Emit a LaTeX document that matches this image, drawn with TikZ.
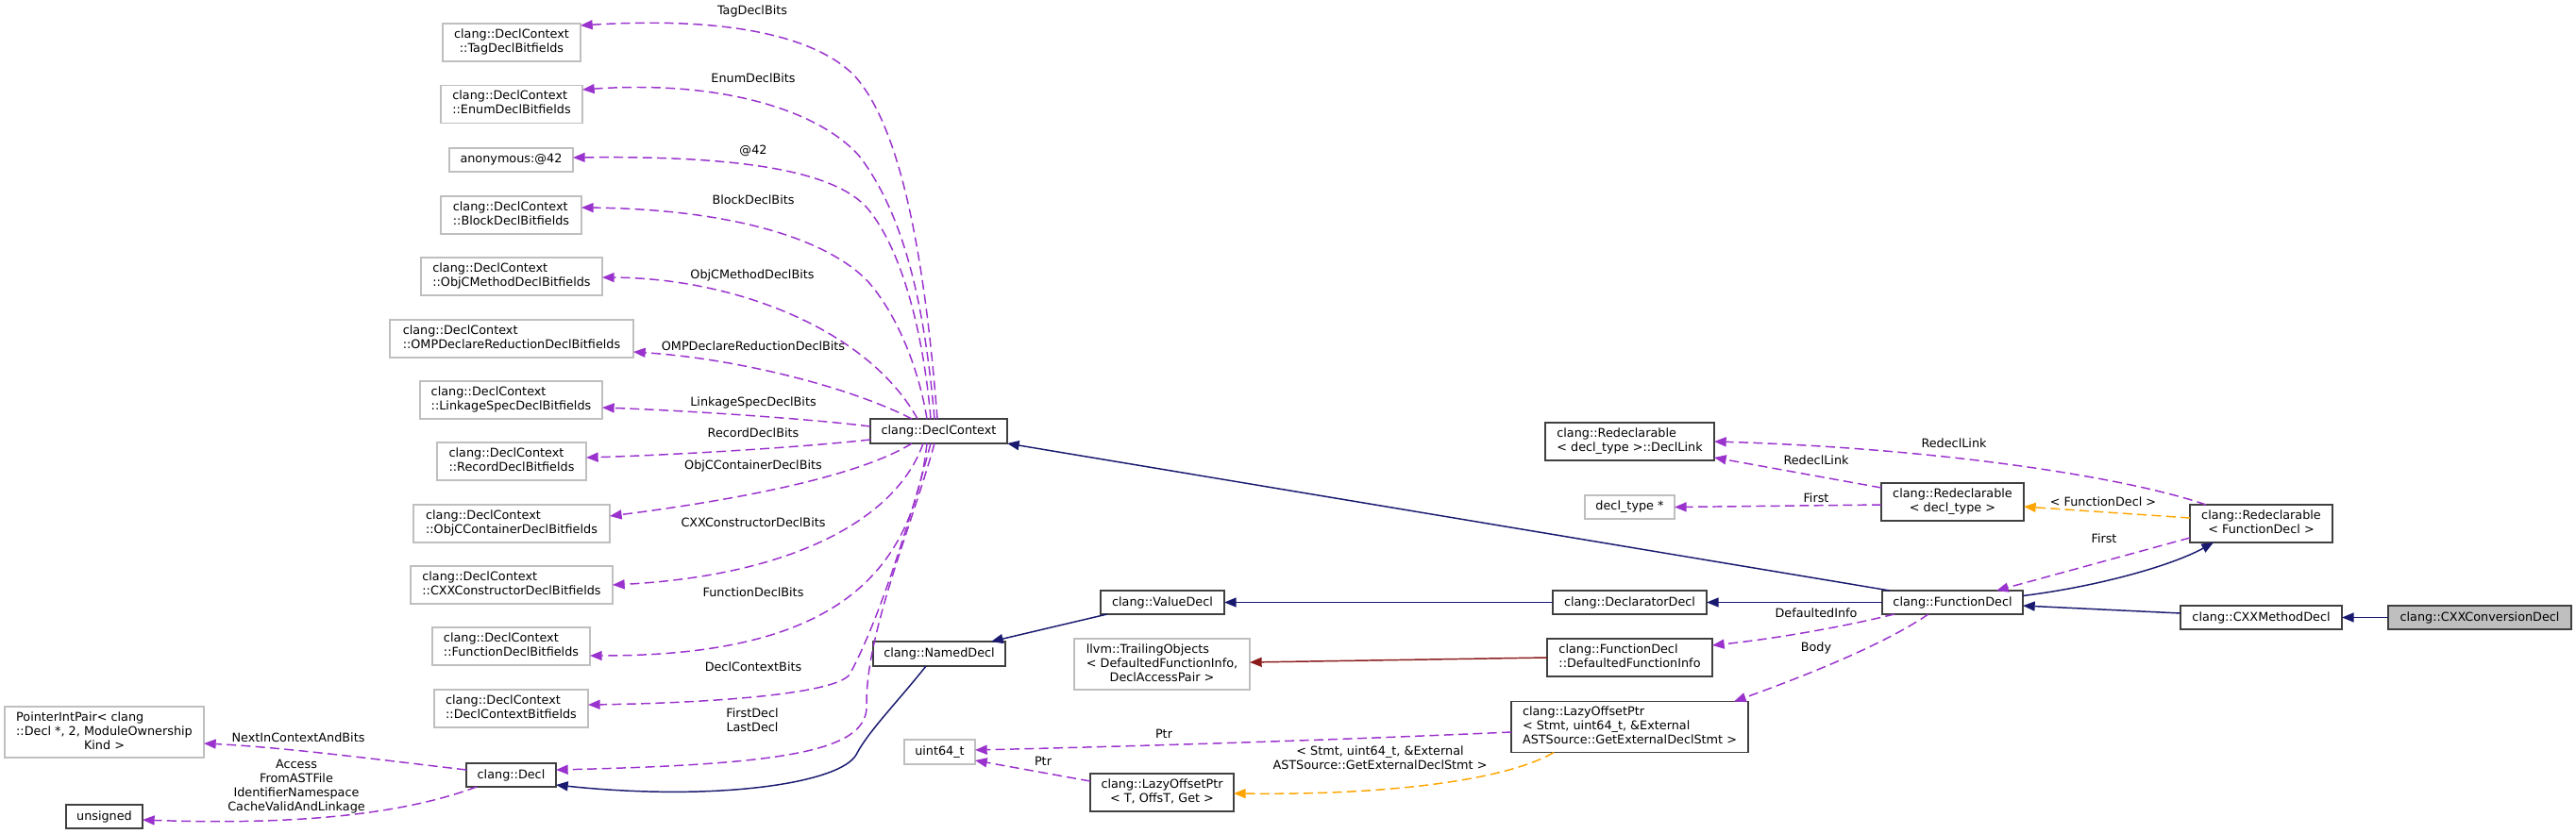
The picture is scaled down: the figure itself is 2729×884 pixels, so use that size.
\documentclass[tikz,border=0pt]{standalone}
\usepackage{fontspec}
\setmainfont{DejaVu Sans}
\usetikzlibrary{arrows.meta,calc}
\definecolor{usecol}{HTML}{9A32CD}
\definecolor{inhcol}{HTML}{191970}
\definecolor{tplcol}{HTML}{FFA500}
\definecolor{privcol}{HTML}{8B1A1A}
\definecolor{greybd}{HTML}{BFBFBF}
\definecolor{darkbd}{HTML}{404040}
\newcommand\NLii[2]{\begin{tabular}{@{}l@{}}#1\\\multicolumn{1}{@{}c@{}}{#2}\end{tabular}}
\newcommand\NLiii[3]{\begin{tabular}{@{}l@{}}#1\\#2\\\multicolumn{1}{@{}c@{}}{#3}\end{tabular}}
\begin{document}
\begin{tikzpicture}[x=0.75pt,y=-0.75pt,
  font=\fontsize{9.6pt}{11.25pt}\selectfont,
  gbox/.style={draw=greybd, line width=1.3pt, fill=white, inner sep=0pt, outer sep=0pt, anchor=center},
  kbox/.style={draw=darkbd, line width=1.3pt, fill=white, inner sep=0pt, outer sep=0pt, anchor=center},
  mainbox/.style={kbox, fill=greybd},
  h1/.style={minimum height=18.75pt},
  h2/.style={minimum height=30pt},
  h3/.style={minimum height=40.5pt},
  tipk/.style={-{Triangle[length=9.5pt,width=7.5pt]}},
  usage/.style={tipk, draw=usecol, line width=1.1pt, dash pattern=on 7.5pt off 4pt},
  tmpl/.style={tipk, draw=tplcol, line width=1.1pt, dash pattern=on 7.5pt off 4pt},
  inh/.style={tipk, draw=inhcol, line width=1.1pt},
  priv/.style={tipk, draw=privcol, line width=1.1pt},
  elabel/.style={inner sep=0pt, align=center}]
\useasboundingbox (0,0) rectangle (2729,884);

% ---------- nodes ----------
\node[gbox, h2, minimum width=109.5pt] (tag) at (542,45) {\NLii{clang::DeclContext}{::TagDeclBitfields}};
\node[gbox, h2, minimum width=112.5pt] (enum) at (542,110.5) {\NLii{clang::DeclContext}{::EnumDeclBitfields}};
\node[gbox, h1, minimum width=98.25pt] (anon) at (541.5,169.5) {anonymous:@42};
\node[gbox, h2, minimum width=111.75pt] (block) at (541.5,228) {\NLii{clang::DeclContext}{::BlockDeclBitfields}};
\node[gbox, h2, minimum width=144pt] (objcm) at (542,293) {\NLii{clang::DeclContext}{::ObjCMethodDeclBitfields}};
\node[gbox, h2, minimum width=193.5pt] (omp) at (542,359) {\NLii{clang::DeclContext}{::OMPDeclareReductionDeclBitfields}};
\node[gbox, h2, minimum width=144.75pt] (link) at (541.5,424) {\NLii{clang::DeclContext}{::LinkageSpecDeclBitfields}};
\node[gbox, h2, minimum width=118.5pt] (rec) at (542,489) {\NLii{clang::DeclContext}{::RecordDeclBitfields}};
\node[gbox, h2, minimum width=156pt] (objcc) at (542,555) {\NLii{clang::DeclContext}{::ObjCContainerDeclBitfields}};
\node[gbox, h2, minimum width=160.5pt] (cxxc) at (542,620) {\NLii{clang::DeclContext}{::CXXConstructorDeclBitfields}};
\node[gbox, h2, minimum width=125.25pt] (fdb) at (541.5,685) {\NLii{clang::DeclContext}{::FunctionDeclBitfields}};
\node[gbox, h2, minimum width=122.25pt] (dcb) at (541.5,751) {\NLii{clang::DeclContext}{::DeclContextBitfields}};
\node[gbox, h3, minimum width=158.25pt] (pip) at (110.5,776) {\NLiii{PointerIntPair< clang}{::Decl *, 2, ModuleOwnership}{Kind >}};
\node[kbox, h1, minimum width=71.25pt] (decl) at (541.5,821.5) {clang::Decl};
\node[kbox, h1, minimum width=60.75pt] (uns) at (110.5,865.5) {unsigned};
\node[kbox, minimum height=19.5pt, minimum width=108.75pt] (dc) at (994.5,457) {clang::DeclContext};
\node[kbox, minimum height=19.5pt, minimum width=105pt] (nd) at (995,693) {clang::NamedDecl};
\node[kbox, h1, minimum width=98.25pt] (vd) at (1231.5,638.5) {clang::ValueDecl};
\node[gbox, h3, minimum width=139.5pt] (trail) at (1231,704) {\NLiii{llvm::TrailingObjects}{< DefaultedFunctionInfo,}{DeclAccessPair >}};
\node[gbox, minimum height=19.5pt, minimum width=56.25pt] (u64) at (995.5,797) {uint64\_t};
\node[kbox, h2, minimum width=114pt] (lazyT) at (1231,840) {\NLii{clang::LazyOffsetPtr}{< T, OffsT, Get >}};
\node[kbox, h3, minimum width=188.25pt] (lazyS) at (1726.5,770.5) {\NLiii{clang::LazyOffsetPtr}{< Stmt, uint64\_t, \&External}{ASTSource::GetExternalDeclStmt >}};
\node[kbox, h2, minimum width=134.25pt] (dlink) at (1726.5,468) {\NLii{clang::Redeclarable}{< decl\_type >::DeclLink}};
\node[gbox, h1, minimum width=71.25pt] (dtp) at (1726.5,537.5) {decl\_type *};
\node[kbox, h2, minimum width=113.25pt] (rdt) at (2068.5,532) {\NLii{clang::Redeclarable}{< decl\_type >}};
\node[kbox, h1, minimum width=122.25pt] (ddecl) at (1726.5,638.5) {clang::DeclaratorDecl};
\node[kbox, h1, minimum width=111.75pt] (fd) at (2068.5,638.5) {clang::FunctionDecl};
\node[kbox, h2, minimum width=131.25pt] (dfi) at (1726.5,697) {\NLii{clang::FunctionDecl}{::DefaultedFunctionInfo}};
\node[kbox, h2, minimum width=113.25pt] (rfd) at (2395.5,555) {\NLii{clang::Redeclarable}{< FunctionDecl >}};
\node[kbox, h1, minimum width=128.25pt] (cxxm) at (2395.5,654.5) {clang::CXXMethodDecl};
\node[mainbox, h1, minimum width=145.5pt] (cxxconv) at (2627,654.5) {clang::CXXConversionDecl};

% ---------- DeclContext fan (usage) ----------
\draw[usage] ($(dc.north)+(-1.5,0)$) .. controls (978,250) and (950,130) .. (905,80)
  .. controls (860,35) and (760,18) .. ($(tag.north east)+(0,2)$);
\draw[usage] ($(dc.north)+(-4.5,0)$) .. controls (980,330) and (960,230) .. (910,165)
  .. controls (865,115) and (760,85) .. ($(enum.east)+(0,-15.5)$);
\draw[usage] ($(dc.north)+(-8.5,0)$) .. controls (978,350) and (955,265) .. (920,222)
  .. controls (885,180) and (780,165) .. ($(anon.east)+(0,-2.5)$);
\draw[usage] ($(dc.north)+(-12.5,0)$) .. controls (975,400) and (955,340) .. (921,300)
  .. controls (880,255) and (780,222) .. ($(block.east)+(0,-8)$);
\draw[usage] ($(dc.north)+(-22.5,0)$) .. controls (920,350) and (780,295) .. ($(objcm.east)+(0,1)$);
\draw[usage] ($(dc.north)+(-28.5,0)$) .. controls (900,410) and (780,380) .. ($(omp.east)+(0,14)$);
\draw[usage] ($(dc.west)+(0,-5)$) .. controls (850,443) and (720,435) .. ($(link.east)+(0,8)$);
\draw[usage] ($(dc.west)+(0,9)$) .. controls (850,474) and (720,482) .. ($(rec.east)+(0,-4)$);
\draw[usage] ($(dc.south)+(-28.5,0)$) .. controls (910,505) and (780,530) .. ($(objcc.east)+(0,-8)$);
\draw[usage] ($(dc.south)+(-16.5,0)$) .. controls (950,550) and (840,610) .. (cxxc.east);
\draw[usage] ($(dc.south)+(-12.5,0)$) .. controls (965,620) and (870,695) .. ($(fdb.east)+(0,10)$);
\draw[usage] ($(dc.south)+(-8.5,0)$) .. controls (962,560) and (930,660) .. (900,715)
  .. controls (885,735) and (760,745) .. ($(dcb.east)+(0,-4)$);
\draw[usage] ($(dc.south)+(-4.5,0)$) .. controls (965,560) and (918,670) .. (918,745)
  .. controls (922,795) and (840,810) .. ($(decl.east)+(0,-5.5)$);

\node[elabel] (lTag) at (797,12) {TagDeclBits};
\node[elabel] (lEnum) at (798,83) {EnumDeclBits};
\node[elabel] (lAnon) at (798,160) {@42};
\node[elabel] (lBlock) at (798,212) {BlockDeclBits};
\node[elabel] (lObjCM) at (797,292) {ObjCMethodDeclBits};
\node[elabel] (lOMP) at (798,367) {OMPDeclareReductionDeclBits};
\node[elabel] (lLink) at (798,427) {LinkageSpecDeclBits};
\node[elabel] (lRec) at (798,459) {RecordDeclBits};
\node[elabel] (lObjCC) at (798,494) {ObjCContainerDeclBits};
\node[elabel] (lCXXC) at (798,554) {CXXConstructorDeclBits};
\node[elabel] (lFDB) at (798,628) {FunctionDeclBits};
\node[elabel] (lDCB) at (798,707) {DeclContextBits};
\node[elabel] (lFirstDecl) at (797,763) {FirstDecl\\LastDecl};

% ---------- Decl ----------
\draw[usage] ($(decl.west)+(0,-5.5)$) .. controls (400,805) and (300,792) .. ($(pip.east)+(0,12)$);
\draw[usage] ($(decl.south)+(-36.5,0)$) .. controls (430,862) and (320,875) .. ($(uns.east)+(0,3.5)$);
\node[elabel] (lNext) at (316,782) {NextInContextAndBits};
\node[elabel] (lAccess) at (314,834) {Access\\FromASTFile\\IdentifierNamespace\\CacheValidAndLinkage};

% ---------- inheritance ----------
\draw[inh] ($(fd.north)+(-66.5,0)$) -- (dc.south east);
\draw[inh] (fd.west) -- (ddecl.east);
\draw[inh] (ddecl.west) -- (vd.east);
\draw[inh] ($(vd.south west)+(7,0)$) -- ($(nd.north east)+(-15,0)$);
\draw[inh] ($(nd.south)+(-14,0)$) .. controls (950,745) and (920,775) .. (907,800)
  .. controls (890,830) and (760,850) .. ($(decl.south east)+(0,-2)$);
\draw[inh] ($(fd.east)+(0,-7)$) .. controls (2220,622) and (2300,600) .. ($(rfd.south)+(-50.5,0)$);
\draw[inh] ($(cxxm.west)+(0,-4.5)$) -- ($(fd.east)+(0,3.5)$);
\draw[inh] (cxxconv.west) -- (cxxm.east);
\draw[priv] (dfi.west) -- ($(trail.east)+(0,-2)$);

% ---------- templates ----------
\draw[tmpl] ($(rfd.west)+(0,-6)$) -- ($(rdt.east)+(0,5)$);
\node[elabel] (lFD) at (2228,532) {< FunctionDecl >};
\draw[tmpl] ($(lazyS.south)+(-80.5,0)$) .. controls (1600,825) and (1480,843) .. ($(lazyT.east)+(0,1)$);
\node[elabel] (lStmt) at (1462,803) {< Stmt, uint64\_t, \&External\\ASTSource::GetExternalDeclStmt >};

% ---------- other usage ----------
\draw[usage] ($(lazyS.west)+(0,5.5)$) .. controls (1400,785) and (1200,791) .. ($(u64.east)+(0,-2)$);
\node[elabel] (lPtr1) at (1233,778) {Ptr};
\draw[usage] ($(lazyT.west)+(0,-12)$) -- ($(u64.east)+(0,9)$);
\node[elabel] (lPtr2) at (1105,807) {Ptr};
\draw[usage] ($(fd.south west)+(13,0)$) .. controls (1950,665) and (1880,677) .. ($(dfi.east)+(0,-13)$);
\node[elabel] (lDef) at (1924,650) {DefaultedInfo};
\draw[usage] ($(fd.south west)+(49,0)$) .. controls (2000,680) and (1930,710) .. ($(lazyS.north east)+(-15,0)$);
\node[elabel] (lBody) at (1924,687) {Body};
\draw[usage] ($(rdt.west)+(0,-15)$) -- ($(dlink.east)+(0,17)$);
\node[elabel] (lRL1) at (1924,488) {RedeclLink};
\draw[usage] ($(rdt.west)+(0,3)$) -- (dtp.east);
\node[elabel] (lFirst1) at (1924,528) {First};
\draw[usage] ($(rfd.north west)+(17,0)$) .. controls (2250,505) and (2050,475) .. (dlink.east);
\node[elabel] (lRL2) at (2070,470) {RedeclLink};
\draw[usage] ($(rfd.west)+(0,15)$) -- ($(fd.north east)+(-28,0)$);
\node[elabel] (lFirst2) at (2229,571) {First};
\end{tikzpicture}
\end{document}
